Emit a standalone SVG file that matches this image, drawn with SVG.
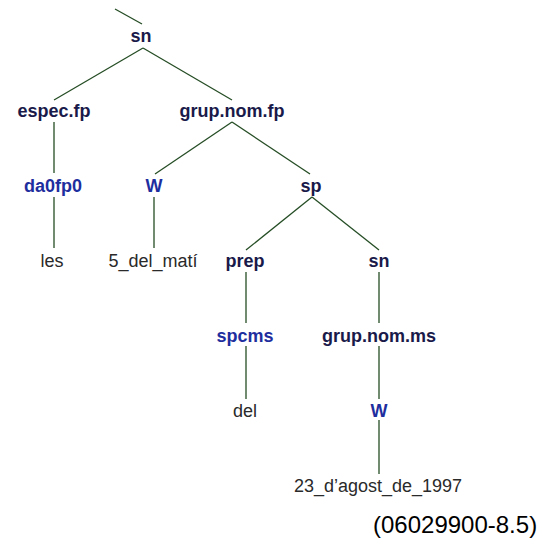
<svg xmlns="http://www.w3.org/2000/svg" width="546" height="539" viewBox="0 0 546 539">
<style>
.nt{font-family:"Liberation Sans",Arial,sans-serif;font-size:18px;font-weight:bold;fill:#1a1a4a;text-anchor:middle}
.pos{font-family:"Liberation Sans",Arial,sans-serif;font-size:18px;font-weight:bold;fill:#1e2e9e;text-anchor:middle}
.w{font-family:"Liberation Sans",Arial,sans-serif;font-size:18px;fill:#2a2a2a;text-anchor:middle}
.ft{font-family:"Liberation Sans",Arial,sans-serif;font-size:24px;fill:#000}
.e{stroke:#254d25;stroke-width:1.3;fill:none}
</style>
<rect width="546" height="539" fill="#fff"/>
<g id="connectors">
<line class="e" x1="115" y1="9" x2="142" y2="24"/>
<line class="e" x1="143" y1="48" x2="54" y2="100"/>
<line class="e" x1="143" y1="48" x2="232" y2="100"/>
<line class="e" x1="54" y1="122" x2="54" y2="173"/>
<line class="e" x1="232" y1="122" x2="155" y2="174"/>
<line class="e" x1="232" y1="122" x2="310" y2="174"/>
<line class="e" x1="54" y1="197" x2="54" y2="248"/>
<line class="e" x1="154" y1="197" x2="154" y2="248"/>
<line class="e" x1="312" y1="197" x2="246" y2="250"/>
<line class="e" x1="312" y1="197" x2="379" y2="250"/>
<line class="e" x1="246" y1="272" x2="246" y2="323"/>
<line class="e" x1="379" y1="272" x2="379" y2="323"/>
<line class="e" x1="246" y1="346" x2="246" y2="399"/>
<line class="e" x1="379" y1="346" x2="379" y2="399"/>
<line class="e" x1="379" y1="420" x2="379" y2="474"/>
</g>
<g id="n-sn"><text class="nt" x="141" y="41.5">sn</text></g>
<g id="n-espec"><text class="nt" x="54" y="116.5">espec.fp</text></g>
<g id="n-grupfp"><text class="nt" x="232" y="116.5">grup.nom.fp</text></g>
<g id="n-da0fp0"><text class="pos" x="53" y="191.5">da0fp0</text></g>
<g id="n-W1"><text class="pos" x="154" y="191.5">W</text></g>
<g id="n-sp"><text class="nt" x="311" y="191.5">sp</text></g>
<g id="n-les"><text class="w" x="52" y="266.5">les</text></g>
<g id="n-matí"><text class="w" x="153" y="266.5">5_del_matí</text></g>
<g id="n-prep"><text class="nt" x="245" y="266.5">prep</text></g>
<g id="n-sn2"><text class="nt" x="379" y="266.5">sn</text></g>
<g id="n-spcms"><text class="pos" x="245" y="341.5">spcms</text></g>
<g id="n-grupms"><text class="nt" x="379" y="341.5">grup.nom.ms</text></g>
<g id="n-del"><text class="w" x="245" y="416.5">del</text></g>
<g id="n-W2"><text class="pos" x="379" y="416.5">W</text></g>
<g id="n-date"><text class="w" x="378" y="491.5">23_d’agost_de_1997</text></g>
<g id="caption"><text class="ft" x="373" y="533">(06029900-8.5)</text></g>
</svg>
